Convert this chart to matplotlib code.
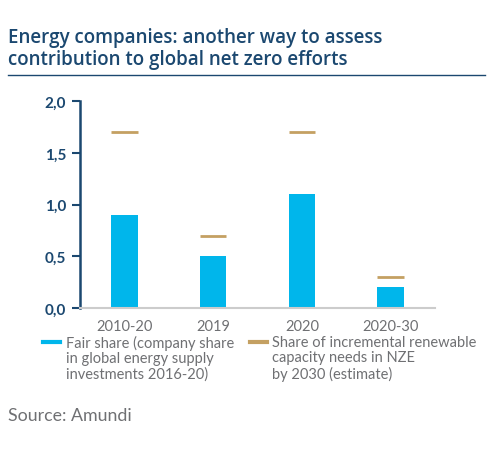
import matplotlib
matplotlib.use("Agg")
import matplotlib.pyplot as plt
from matplotlib.lines import Line2D

# data
categories = ["2010-20", "2019", "2020", "2020-30"]
fair_share = [0.9, 0.5, 1.1, 0.2]
renewable_share = [1.7, 0.7, 1.7, 0.3]
y_ticks = [0.0, 0.5, 1.0, 1.5, 2.0]
y_tick_labels = ["0,0", "0,5", "1,0", "1,5", "2,0"]

title = "Energy companies: another way to assess\ncontribution to global net zero efforts"
label_fair = "Fair share (company share\nin global energy supply\ninvestments 2016-20)"
label_renew = "Share of incremental renewable\ncapacity needs in NZE\nby 2030 (estimate)"
source = "Source: Amundi"

NAVY = "#1b4870"
BLUE = "#00b6eb"
GOLD = "#c4a062"
GRAY = "#6f7073"

plt.rcParams["font.family"] = ["Lato", "DejaVu Sans"]

fig = plt.figure(figsize=(5.0, 4.52), dpi=100)
ax = fig.add_axes([0.16, 0.316, 0.71, 0.458])

x = range(len(categories))
width = 0.3
ax.bar(x, fair_share, width=width, color=BLUE, zorder=2)
for xi, v in zip(x, renewable_share):
    ax.hlines(v, xi - width / 2, xi + width / 2, color=GOLD, lw=2, zorder=3)

ax.set_xlim(-0.5, 3.5)
ax.set_ylim(0, 2.0)
ax.set_xticks(list(x))
ax.set_xticklabels(categories, color=GRAY, fontsize=10.5)
ax.tick_params(axis="x", length=0, pad=8)
ax.set_yticks(y_ticks)
ax.set_yticklabels(y_tick_labels, color=NAVY, fontsize=11, fontweight="bold")
ax.tick_params(axis="y", length=6, width=1.5, color=NAVY, pad=4)

for s in ["top", "right"]:
    ax.spines[s].set_visible(False)
ax.spines["left"].set_color(NAVY)
ax.spines["left"].set_linewidth(1.8)
ax.spines["bottom"].set_color("#cccccc")
ax.spines["bottom"].set_linewidth(1.5)

# title and rule
fig.text(0.016, 0.937, title, color=NAVY, fontsize=13.5, fontweight="semibold",
         family=["Open Sans", "DejaVu Sans"], va="top", ha="left",
         linespacing=1.08)
fig.add_artist(Line2D([0.016, 0.97], [0.832, 0.832], color=NAVY, lw=1))

# legend, drawn by hand so the key sits on the first text line
legend_items = [(label_fair, BLUE, 43, 66), (label_renew, GOLD, 250, 272)]
for label, color, hx, tx in legend_items:
    yk = 1 - 343 / 452
    fig.add_artist(Line2D([hx / 500, (hx + 17) / 500], [yk, yk],
                          color=color, lw=3))
    fig.text(tx / 500, 1 - 336 / 452, label, color=GRAY, fontsize=10.5,
             ha="left", va="top", linespacing=1.12)

fig.text(0.016, 1 - 416 / 452, source, color=GRAY, fontsize=12.8,
         ha="left", va="center")

fig.savefig("out.png", dpi=100)
